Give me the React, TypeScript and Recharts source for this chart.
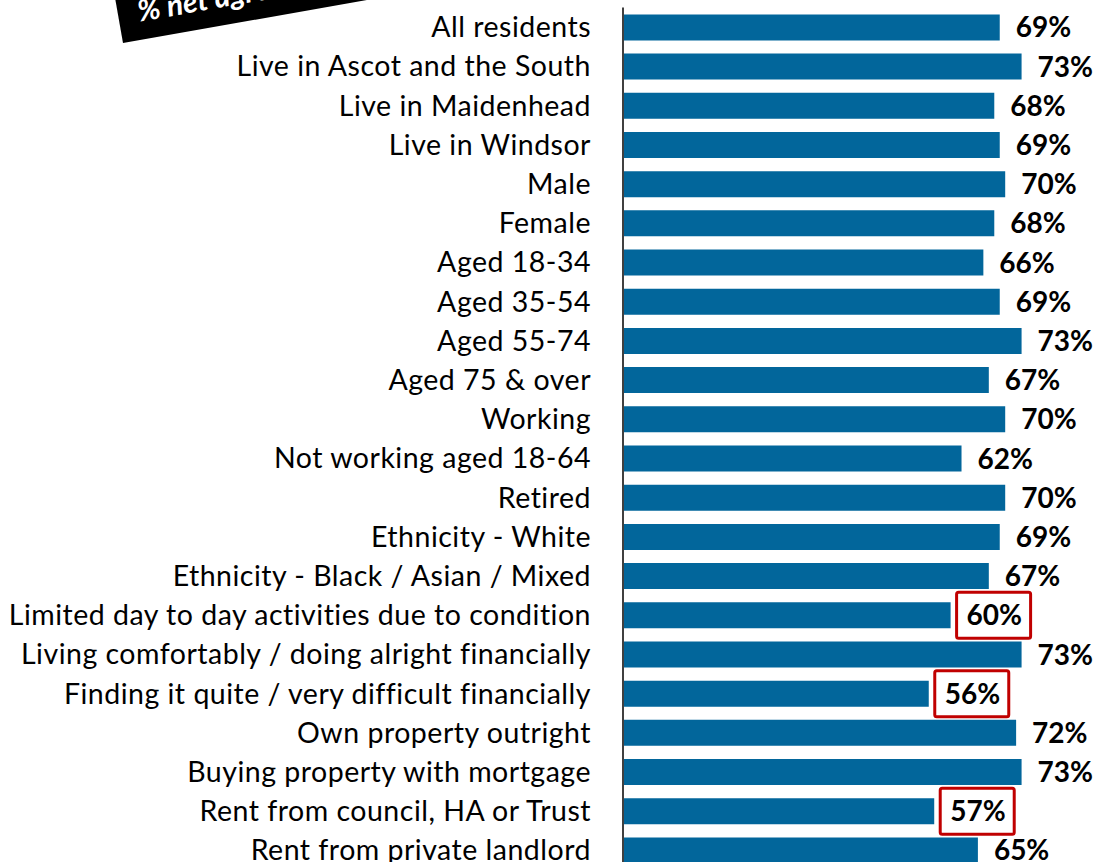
import React from "react";
import { BarChart, Bar, XAxis, YAxis, LabelList } from "recharts";

const categories: string[] = [
  "All residents",
  "Live in Ascot and the South",
  "Live in Maidenhead",
  "Live in Windsor",
  "Male",
  "Female",
  "Aged 18-34",
  "Aged 35-54",
  "Aged 55-74",
  "Aged 75 & over",
  "Working",
  "Not working aged 18-64",
  "Retired",
  "Ethnicity - White",
  "Ethnicity - Black / Asian / Mixed",
  "Limited day to day activities due to condition",
  "Living comfortably / doing alright financially",
  "Finding it quite / very difficult financially",
  "Own property outright",
  "Buying property with mortgage",
  "Rent from council, HA or Trust",
  "Rent from private landlord",
];

const netAgree: number[] = [69, 73, 68, 69, 70, 68, 66, 69, 73, 67, 70, 62, 70, 69, 67, 60, 73, 56, 72, 73, 57, 65];

const highlighted: string[] = [
  "Limited day to day activities due to condition",
  "Finding it quite / very difficult financially",
  "Rent from council, HA or Trust",
];

const badgeText = "% net agree";

const data = categories.map((c, i) => ({ name: c, value: netAgree[i] }));

const FONT = "Lato, 'Open Sans', sans-serif";
const BAR_COLOR = "#02669B";

const ValueLabel = (props: any) => {
  const { x, y, width, height, value, index } = props;
  const tx = Number(x) + Number(width) + 16;
  const cy = Number(y) + Number(height) / 2;
  const hl = highlighted.includes(categories[index]);
  return (
    <g>
      {hl && (
        <rect
          x={Number(x) + Number(width) + 6}
          y={cy - 23}
          width={74}
          height={46}
          rx={2}
          fill="#ffffff"
          stroke="#C00000"
          strokeWidth={3}
        />
      )}
      <text
        x={tx}
        y={cy}
        dy="0.36em"
        fontFamily={FONT}
        fontWeight={700}
        fontSize={28}
        fill="#000000"
      >
        {`${value}%`}
      </text>
    </g>
  );
};

const CategoryTick = (props: any) => {
  const { x, y, payload } = props;
  return (
    <text
      x={x}
      y={y}
      dy="0.36em"
      textAnchor="end"
      fontFamily={FONT}
      fontSize={28.5}
      letterSpacing={0.5}
      fill="#000000"
    >
      {payload.value}
    </text>
  );
};

export default function App() {
  return (
    <div
      style={{
        position: "absolute",
        left: 0,
        top: 0,
        width: 1100,
        height: 862,
        overflow: "hidden",
        background: "#ffffff",
      }}
    >
      <BarChart
        width={1100}
        height={870}
        layout="vertical"
        data={data}
        margin={{ top: 7.4, right: 40.2, left: 0, bottom: 0.4 }}
      >
        <XAxis type="number" hide domain={[0, 80]} allowDataOverflow />
        <YAxis
          type="category"
          dataKey="name"
          width={623}
          tickLine={false}
          tickSize={0}
          tickMargin={32}
          axisLine={{ stroke: "#404040", strokeWidth: 2 }}
          tick={<CategoryTick />}
          interval={0}
        />
        <Bar dataKey="value" fill={BAR_COLOR} barSize={26} isAnimationActive={false}>
          <LabelList dataKey="value" content={<ValueLabel />} />
        </Bar>
      </BarChart>
      <svg
        width={400}
        height={60}
        style={{ position: "absolute", left: 0, top: 0 }}
      >
        <g transform="rotate(-10, 123, 43)">
          <rect x={123} y={-27} width={262} height={70} fill="#000000" />
          <text
            x={143}
            y={25}
            fontFamily={FONT}
            fontWeight={700}
            fontStyle="italic"
            fontSize={30}
            fill="#ffffff"
          >
            {badgeText}
          </text>
        </g>
      </svg>
    </div>
  );
}
